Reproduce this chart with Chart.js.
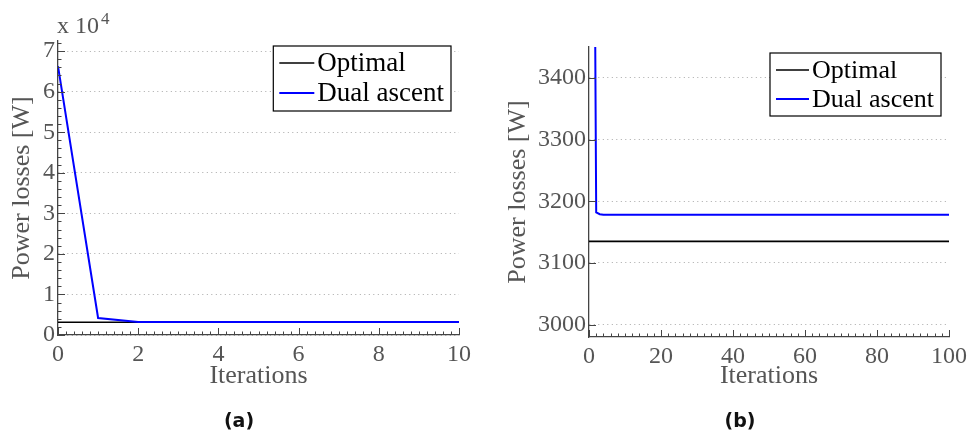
<!DOCTYPE html>
<html>
<head>
<meta charset="utf-8">
<script src="https://cdn.jsdelivr.net/npm/chart.js@4"></script>
<style>
  body { margin: 0; background: #fff; width: 972px; height: 434px; position: relative; overflow: hidden; }
  canvas { position: absolute; top: 0; }
  #chartA { left: 0; }
  #chartB { left: 486px; }
  .caption { position: absolute; top: 409px; width: 80px; line-height: 22px; text-align: center;
             font: bold 19px "DejaVu Sans", sans-serif; color: #111; }
</style>
</head>
<body>
<canvas id="chartA" width="486" height="434"></canvas>
<canvas id="chartB" width="486" height="434"></canvas>
<div class="caption" style="left:199px">(a)</div>
<div class="caption" style="left:700px">(b)</div>
<script>
// values (power losses in W per iteration)
const iterations = [0, 1, 2, 3, 4, 5, 6, 7, 8, 9, 10, 20, 30, 40, 50, 60, 70, 80, 90, 100];
const dualAscent = [66300, 4200, 3182, 3179, 3178, 3178, 3178, 3178, 3178, 3178, 3178, 3178, 3178, 3178, 3178, 3178, 3178, 3178, 3178, 3178];
const optimal = [3135, 3135, 3135, 3135, 3135, 3135, 3135, 3135, 3135, 3135, 3135, 3135, 3135, 3135, 3135, 3135, 3135, 3135, 3135, 3135];
const seriesLabels = ['Optimal', 'Dual ascent'];

const xTicksA = [0, 2, 4, 6, 8, 10];
const yTicksA = [0, 10000, 20000, 30000, 40000, 50000, 60000, 70000];
const yTickLabelsA = ['0', '1', '2', '3', '4', '5', '6', '7'];
const xTicksB = [0, 20, 40, 60, 80, 100];
const yTicksB = [3000, 3100, 3200, 3300, 3400];

const serif = '"Liberation Serif", "Times New Roman", serif';
const grey = '#555';
const axisColor = '#444';

function points(ys) {
    return iterations.map((x, i) => ({ x: x, y: ys[i] }));
}

function isMultiple(v, step) {
    return Math.abs(v / step - Math.round(v / step)) < 1e-6;
}

// matlab style ticks pointing into the plot
const innerTicks = {
    id: 'innerTicks',
    afterDraw(chart, args, opts) {
        const { ctx, chartArea: a, scales: { x, y } } = chart;
        ctx.save();
        ctx.strokeStyle = axisColor;
        ctx.lineWidth = 1;
        ctx.beginPath();
        const nx = Math.round((x.max - x.min) / opts.xMinor);
        for (let k = 0; k <= nx; k++) {
            const v = x.min + k * opts.xMinor;
            const px = Math.round(x.getPixelForValue(v)) + 0.5;
            const len = isMultiple(v, opts.xMajor) ? 7 : 3.5;
            ctx.moveTo(px, a.bottom);
            ctx.lineTo(px, a.bottom - len);
        }
        const yStep = opts.yMinor || opts.yMajor;
        const ny = Math.floor((y.max - y.min) / yStep + 1e-6);
        const y0 = Math.ceil(y.min / yStep) * yStep;
        for (let k = 0; k <= ny; k++) {
            const v = y0 + k * yStep;
            if (v > y.max) break;
            const py = Math.round(y.getPixelForValue(v)) + 0.5;
            const len = isMultiple(v, opts.yMajor) ? 7 : 3.5;
            ctx.moveTo(a.left, py);
            ctx.lineTo(a.left + len, py);
        }
        ctx.stroke();
        ctx.restore();
    }
};

// boxed legend in the top right corner of the plot
const boxLegend = {
    id: 'boxLegend',
    afterDraw(chart, args, opts) {
        const { ctx, chartArea: a } = chart;
        const sets = seriesLabels.map(l => chart.data.datasets.find(d => d.label === l));
        ctx.save();
        ctx.font = opts.size + 'px ' + serif;
        const tw = Math.max(...sets.map(d => ctx.measureText(d.label).width));
        const w = 6 + opts.line + 3 + tw + 7;
        const h = opts.rowH * sets.length + 5;
        const left = a.right - opts.right - w;
        const top = a.top + opts.top;
        ctx.fillStyle = '#fff';
        ctx.fillRect(left, top, w, h);
        ctx.strokeStyle = '#000';
        ctx.lineWidth = 1.2;
        ctx.strokeRect(left, top, w, h);
        ctx.textBaseline = 'middle';
        sets.forEach((d, i) => {
            const cy = top + 17 + i * opts.rowH;
            ctx.strokeStyle = d.borderColor;
            ctx.lineWidth = d.borderWidth;
            ctx.beginPath();
            ctx.moveTo(left + 6, cy);
            ctx.lineTo(left + 6 + opts.line, cy);
            ctx.stroke();
            ctx.fillStyle = '#000';
            ctx.fillText(d.label, left + 6 + opts.line + 3, cy + 1);
        });
        ctx.restore();
    }
};

// "x 10^4" multiplier above the y axis
const expLabel = {
    id: 'expLabel',
    afterDraw(chart, args, opts) {
        if (!opts.text) return;
        const { ctx, chartArea: a } = chart;
        ctx.save();
        ctx.fillStyle = grey;
        ctx.textBaseline = 'alphabetic';
        ctx.font = '24px ' + serif;
        ctx.fillText(opts.text, a.left - 1, a.top - 8);
        const w = ctx.measureText(opts.text).width;
        ctx.font = '17px ' + serif;
        ctx.fillText(opts.power, a.left + w + 1, a.top - 17);
        ctx.restore();
    }
};

function makeChart(id, cfg) {
    return new Chart(document.getElementById(id), {
        type: 'line',
        data: {
            datasets: [
                { label: seriesLabels[0], data: points(optimal), borderColor: '#000000', borderWidth: 1.6, order: 2 },
                { label: seriesLabels[1], data: points(dualAscent), borderColor: '#0000ff', borderWidth: 2, order: 1 }
            ]
        },
        options: {
            responsive: false,
            animation: false,
            devicePixelRatio: 1,
            layout: { padding: cfg.padding },
            elements: { point: { radius: 0 }, line: { tension: 0 } },
            plugins: {
                legend: { display: false },
                tooltip: { enabled: false },
                innerTicks: cfg.ticks,
                boxLegend: cfg.legend,
                expLabel: cfg.exp || {}
            },
            scales: {
                x: {
                    type: 'linear',
                    min: cfg.xMin, max: cfg.xMax,
                    afterBuildTicks: s => { s.ticks = cfg.xTicks.map(v => ({ value: v })); },
                    afterFit: s => { s.height = 60; },
                    grid: { display: false, drawTicks: false },
                    border: { display: true, color: axisColor, width: 1.3 },
                    ticks: { autoSkip: false, maxRotation: 0, padding: 5, color: grey,
                             font: { family: serif, size: 24 } },
                    title: { display: true, text: 'Iterations', color: grey,
                             font: { family: serif, size: 26 }, padding: { bottom: cfg.xTitlePad } }
                },
                y: {
                    type: 'linear',
                    min: cfg.yMin, max: cfg.yMax,
                    afterBuildTicks: s => { s.ticks = cfg.yTicks.map(v => ({ value: v })); },
                    afterFit: s => { s.width = cfg.yWidth; },
                    grid: { display: true, drawTicks: false, color: '#a8a8a8', lineWidth: 1 },
                    border: { display: true, color: axisColor, width: 1.3, dash: [1, 3.5] },
                    ticks: { autoSkip: false, padding: 3, color: grey,
                             font: { family: serif, size: 24 }, callback: cfg.yLabel },
                    title: { display: true, text: 'Power losses [W]', color: grey,
                             font: { family: serif, size: 26 }, padding: { top: cfg.yTitlePad } }
                }
            }
        },
        plugins: [innerTicks, boxLegend, expLabel]
    });
}

makeChart('chartA', {
    padding: { left: 0, top: 41, right: 27, bottom: 39 },
    xMin: 0, xMax: 10, xTicks: xTicksA,
    yMin: 0, yMax: 72500, yTicks: yTicksA,
    yLabel: (v, i) => yTickLabelsA[i],
    yWidth: 58, yTitlePad: 7, xTitlePad: 3,
    ticks: { xMinor: 0.2, xMajor: 2, yMinor: 2000, yMajor: 10000 },
    legend: { size: 27, line: 35, rowH: 30, right: 8, top: 5 },
    exp: { text: 'x 10', power: '4' }
});

makeChart('chartB', {
    padding: { left: 0, top: 47, right: 18, bottom: 37 },
    xMin: 0, xMax: 100, xTicks: xTicksB,
    yMin: 2980, yMax: 3450, yTicks: yTicksB,
    yLabel: v => String(v),
    yWidth: 103, yTitlePad: 17, xTitlePad: 5,
    ticks: { xMinor: 2, xMajor: 20, yMinor: null, yMajor: 100 },
    legend: { size: 26, line: 33, rowH: 29, right: 8, top: 6 }
});
</script>
</body>
</html>
